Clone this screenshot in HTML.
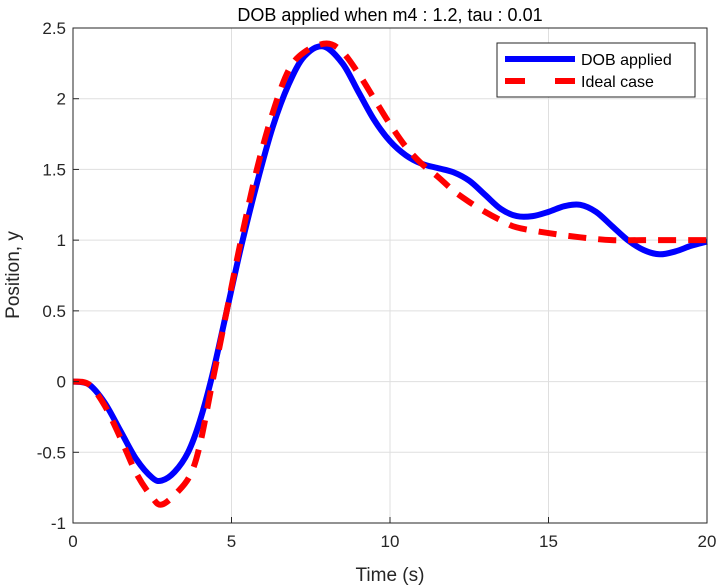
<!DOCTYPE html>
<html><head><meta charset="utf-8"><style>
body{margin:0;background:#fff;}
svg{display:block;font-family:"Liberation Sans",Arial,sans-serif;}
</style></head><body>
<svg id="chart" width="722" height="588">
<rect x="0" y="0" width="722" height="588" fill="#fff"/>
<g id="grid"></g>
<g id="series"></g>
<rect x="73" y="28" width="634" height="495" fill="none" stroke="#262626" stroke-width="1"/>
<g id="ticks"></g>
<text x="390" y="21" text-anchor="middle" font-size="18" fill="#000">DOB applied when m4 : 1.2, tau : 0.01</text>
<text x="390" y="581" text-anchor="middle" font-size="19" fill="#262626">Time (s)</text>
<text x="19" y="275" text-anchor="middle" font-size="19" fill="#262626" transform="rotate(-90 19 275)">Position, y</text>
<g>
<rect x="497" y="43" width="198" height="54" fill="#fff" stroke="#262626" stroke-width="1"/>
<line x1="505" y1="59" x2="575" y2="59" stroke="#0000ff" stroke-width="6"/>
<text x="581" y="65" font-size="16" fill="#000">DOB applied</text>
<line x1="505" y1="81" x2="575" y2="81" stroke="#ff0000" stroke-width="6" stroke-dasharray="20,30"/>
<text x="581" y="87" font-size="16" fill="#000">Ideal case</text>
</g>
</svg>
<script>
const xTicks=[0,5,10,15,20];
const yTicks=[-1,-0.5,0,0.5,1,1.5,2,2.5];
const yTickLabels=["-1","-0.5","0","0.5","1","1.5","2","2.5"];
const dobT=[0,0.5,1,1.5,2,2.5,2.8,3.2,3.63,4,4.4,4.85,5.3,5.8,6.3,6.8,7.3,7.9,8.5,9,9.5,10,10.5,11,11.5,12,12.5,13,13.5,14,14.5,15,15.5,16,16.5,17,17.5,18,18.5,19,19.5,20];
const dobY=[0,-0.02,-0.15,-0.35,-0.55,-0.68,-0.70,-0.64,-0.5,-0.28,0.05,0.5,0.95,1.4,1.8,2.1,2.3,2.37,2.25,2.05,1.85,1.7,1.6,1.54,1.51,1.48,1.42,1.32,1.22,1.17,1.17,1.2,1.24,1.25,1.2,1.1,1.0,0.93,0.9,0.92,0.96,0.99];
const idealT=[0,0.5,1,1.5,2,2.5,2.8,3.3,3.7,4,4.4,4.85,5.3,5.8,6.3,6.8,7.3,8,8.5,9,9.5,10,10.5,11,11.5,12,12.5,13,13.5,14,15,16,17,18,20];
const idealY=[0,-0.02,-0.17,-0.4,-0.65,-0.82,-0.87,-0.78,-0.66,-0.45,0,0.5,1.0,1.5,1.9,2.2,2.33,2.39,2.33,2.18,2.0,1.82,1.66,1.54,1.45,1.35,1.27,1.2,1.14,1.09,1.05,1.02,1.0,1.0,1.0];
const L=73,R=707,T=28,B=523;
const xs=v=>L+(v-0)/(20-0)*(R-L);
const ys=v=>B-(v+1)/(3.5)*(B-T);
const NS="http://www.w3.org/2000/svg";
const grid=document.getElementById('grid'),ticks=document.getElementById('ticks'),series=document.getElementById('series');
function mk(tag,attrs,parent){const e=document.createElementNS(NS,tag);for(const k in attrs)e.setAttribute(k,attrs[k]);parent.appendChild(e);return e;}
xTicks.forEach(v=>{
 const g=mk('line',{x1:xs(v),x2:xs(v),y1:T,y2:B,stroke:'#dfdfdf','stroke-width':1},grid);
 
 
 const t=mk('line',{x1:xs(v),x2:xs(v),y1:B,y2:B-6,stroke:'#262626'},ticks);
 
 
 const l=mk('text',{x:xs(v),y:B+24,'text-anchor':'middle','font-size':17,fill:'#262626'},ticks);
 l.textContent=String(v);
 
 
});
yTicks.forEach((v,i)=>{
 const g=mk('line',{x1:L,x2:R,y1:ys(v),y2:ys(v),stroke:'#dfdfdf','stroke-width':1},grid);
 
 
 const t=mk('line',{x1:L,x2:L+6,y1:ys(v),y2:ys(v),stroke:'#262626'},ticks);
 
 
 const l=mk('text',{x:L-7,y:ys(v)+6,'text-anchor':'end','font-size':17,fill:'#262626'},ticks);
 l.textContent=yTickLabels[i];
 
 
});
function smooth(tArr,yArr){
 const p=tArr.map((t,i)=>[xs(t),ys(yArr[i])]);
 let d='M'+p[0][0]+','+p[0][1];
 for(let i=0;i<p.length-1;i++){
  const p0=p[i-1]||p[i],p1=p[i],p2=p[i+1],p3=p[i+2]||p2;
  const c1=[p1[0]+(p2[0]-p0[0])/6,p1[1]+(p2[1]-p0[1])/6];
  const c2=[p2[0]-(p3[0]-p1[0])/6,p2[1]-(p3[1]-p1[1])/6];
  d+=' C'+c1[0]+','+c1[1]+' '+c2[0]+','+c2[1]+' '+p2[0]+','+p2[1];
 }
 return d;
}
const b=mk('path',{d:smooth(dobT,dobY),fill:'none',stroke:'#0000ff','stroke-width':6,'stroke-linejoin':'round'},series);


const r=mk('path',{d:smooth(idealT,idealY),fill:'none',stroke:'#ff0000','stroke-width':6,'stroke-dasharray':'18,12'},series);


</script>
</body></html>
